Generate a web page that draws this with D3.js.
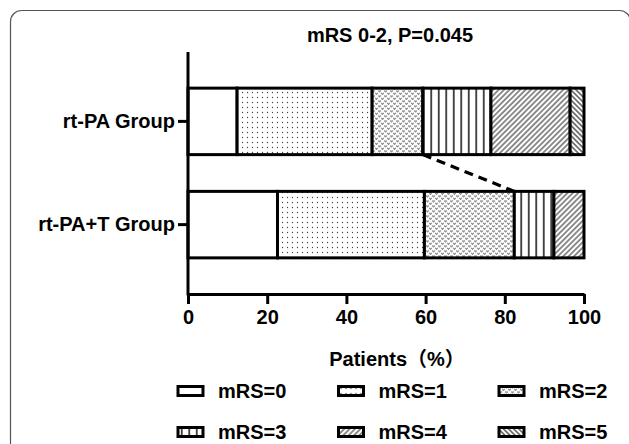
<!DOCTYPE html>
<html>
<head>
<meta charset="utf-8">
<script src="https://cdn.jsdelivr.net/npm/d3@7"></script>
<style>
  body { margin: 0; background: #fff; }
  text { font-family: Arial, "Liberation Sans", "Noto Sans CJK SC", sans-serif; font-weight: bold; fill: #000; }
</style>
</head>
<body>
<div id="chart"></div>
<script>
// ---------- data ----------
var groups = ["rt-PA Group", "rt-PA+T Group"];
var levels = ["mRS=0", "mRS=1", "mRS=2", "mRS=3", "mRS=4", "mRS=5"];
var rtpaValues  = [12.4, 34.1, 12.8, 17.2, 20.0, 3.5];
var rtpaTValues = [22.6, 37.1, 22.7, 10.0, 7.6, 0];
var xTicks = [0, 20, 40, 60, 80, 100];
var titleText = "mRS 0-2, P=0.045";
var xTitle = "Patients（%）";

// ---------- setup ----------
var svgWidth = 629;
var svgHeight = 444;

var svg = d3.select("#chart")
    .append("svg")
    .attr("width", svgWidth)
    .attr("height", svgHeight);

// rounded frame around the figure
svg.append("rect")
    .attr("x", 10.5).attr("y", 10.5)
    .attr("width", 620).attr("height", 470)
    .attr("rx", 11)
    .attr("fill", "none")
    .attr("stroke", "#555")
    .attr("stroke-width", 1.2);

// ---------- patterns ----------
var defs = svg.append("defs");

// mRS=1 dots
var p1 = defs.append("pattern").attr("id", "pat1")
    .attr("patternUnits", "userSpaceOnUse").attr("width", 5).attr("height", 5);
p1.append("rect").attr("width", 5).attr("height", 5).attr("fill", "#fff");
p1.append("circle").attr("cx", 2.5).attr("cy", 2.5).attr("r", 0.65).attr("fill", "#444");

// mRS=2 little hearts
var p2 = defs.append("pattern").attr("id", "pat2")
    .attr("patternUnits", "userSpaceOnUse").attr("width", 6).attr("height", 5);
p2.append("rect").attr("width", 6).attr("height", 5).attr("fill", "#fff");
p2.append("path")
    .attr("d", "M0.3,0.8 Q0.9,0 1.5,1 Q2.1,0 2.7,0.8 L1.5,2.3 Z M3.3,3.3 Q3.9,2.5 4.5,3.5 Q5.1,2.5 5.7,3.3 L4.5,4.8 Z")
    .attr("fill", "none").attr("stroke", "#555").attr("stroke-width", 0.7);

// mRS=3 vertical lines
var p3 = defs.append("pattern").attr("id", "pat3")
    .attr("patternUnits", "userSpaceOnUse").attr("width", 7.5).attr("height", 10);
p3.append("rect").attr("width", 7.5).attr("height", 10).attr("fill", "#fff");
p3.append("line").attr("x1", 3.75).attr("x2", 3.75).attr("y1", 0).attr("y2", 10)
    .attr("stroke", "#000").attr("stroke-width", 1.4);

// mRS=4 "/" hatch
var p4 = defs.append("pattern").attr("id", "pat4")
    .attr("patternUnits", "userSpaceOnUse").attr("width", 3.8).attr("height", 10)
    .attr("patternTransform", "rotate(45)");
p4.append("rect").attr("width", 3.8).attr("height", 10).attr("fill", "#fff");
p4.append("line").attr("x1", 1.9).attr("x2", 1.9).attr("y1", 0).attr("y2", 10)
    .attr("stroke", "#000").attr("stroke-width", 0.9);

// mRS=5 "\" hatch
var p5 = defs.append("pattern").attr("id", "pat5")
    .attr("patternUnits", "userSpaceOnUse").attr("width", 3.6).attr("height", 10)
    .attr("patternTransform", "rotate(-45)");
p5.append("rect").attr("width", 3.6).attr("height", 10).attr("fill", "#fff");
p5.append("line").attr("x1", 1.8).attr("x2", 1.8).attr("y1", 0).attr("y2", 10)
    .attr("stroke", "#000").attr("stroke-width", 1);

var fills = ["#fff", "url(#pat1)", "url(#pat2)", "url(#pat3)", "url(#pat4)", "url(#pat5)"];

// ---------- scales ----------
var x = d3.scaleLinear().domain([0, 100]).range([188, 584]);
var y = d3.scaleBand().domain(groups).range([52, 294])
    .paddingInner(0.356).paddingOuter(0.35);

// ---------- stacked data ----------
var table = groups.map(function (g, i) {
    var vals = i === 0 ? rtpaValues : rtpaTValues;
    var row = { group: g };
    levels.forEach(function (l, j) { row[l] = vals[j]; });
    return row;
});
var series = d3.stack().keys(levels)(table);

// ---------- bars ----------
var layers = svg.append("g").selectAll("g")
    .data(series).enter()
    .append("g")
    .attr("fill", function (d, i) { return fills[i]; });

layers.selectAll("rect")
    .data(function (d) { return d.filter(function (s) { return s[1] - s[0] > 0; }); })
    .enter()
    .append("rect")
    .attr("x", function (d) { return x(d[0]); })
    .attr("y", function (d) { return y(d.data.group); })
    .attr("width", function (d) { return x(d[1]) - x(d[0]); })
    .attr("height", y.bandwidth())
    .attr("stroke", "#000")
    .attr("stroke-width", 3);

// dashed line joining end of mRS 0-2 in each group
var cum1 = series[2][0][1];
var cum2 = series[2][1][1];
svg.append("line")
    .attr("x1", x(cum1)).attr("y1", y(groups[0]) + y.bandwidth())
    .attr("x2", x(cum2)).attr("y2", y(groups[1]))
    .attr("stroke", "#000")
    .attr("stroke-width", 3.2)
    .attr("stroke-dasharray", "9,6");

// ---------- axes ----------
var xAxis = svg.append("g")
    .attr("transform", "translate(0,294)")
    .call(d3.axisBottom(x).tickValues(xTicks).tickSize(10).tickPadding(6).tickSizeOuter(0));
xAxis.select(".domain").attr("stroke-width", 3);
xAxis.selectAll(".tick line").attr("stroke-width", 3);
xAxis.selectAll("text").style("font-size", "20px");

var yAxis = svg.append("g")
    .attr("transform", "translate(188,0)")
    .call(d3.axisLeft(y).tickSize(10).tickPadding(3).tickSizeOuter(0));
yAxis.select(".domain").attr("d", "M0,52V295.5").attr("stroke-width", 3);
yAxis.selectAll(".tick line").attr("stroke-width", 3);
yAxis.selectAll("text").style("font-size", "20px");

// ---------- titles ----------
svg.append("text")
    .attr("x", 390).attr("y", 42)
    .attr("text-anchor", "middle")
    .style("font-size", "20px")
    .text(titleText);

svg.append("text")
    .attr("x", 397).attr("y", 366)
    .attr("text-anchor", "middle")
    .style("font-size", "20px")
    .text(xTitle);

// ---------- legend ----------
var legend = svg.append("g").selectAll("g")
    .data(levels).enter()
    .append("g")
    .attr("transform", function (d, i) {
        return "translate(" + (178 + (i % 3) * 160.5) + "," + (391 + Math.floor(i / 3) * 41) + ")";
    });

legend.append("rect")
    .attr("x", 0).attr("y", -4.5)
    .attr("width", 25).attr("height", 9)
    .attr("fill", function (d, i) { return fills[i]; })
    .attr("stroke", "#000")
    .attr("stroke-width", 3);

legend.append("text")
    .attr("x", 40).attr("y", 7)
    .style("font-size", "20px")
    .text(function (d) { return d; });
</script>
</body>
</html>
